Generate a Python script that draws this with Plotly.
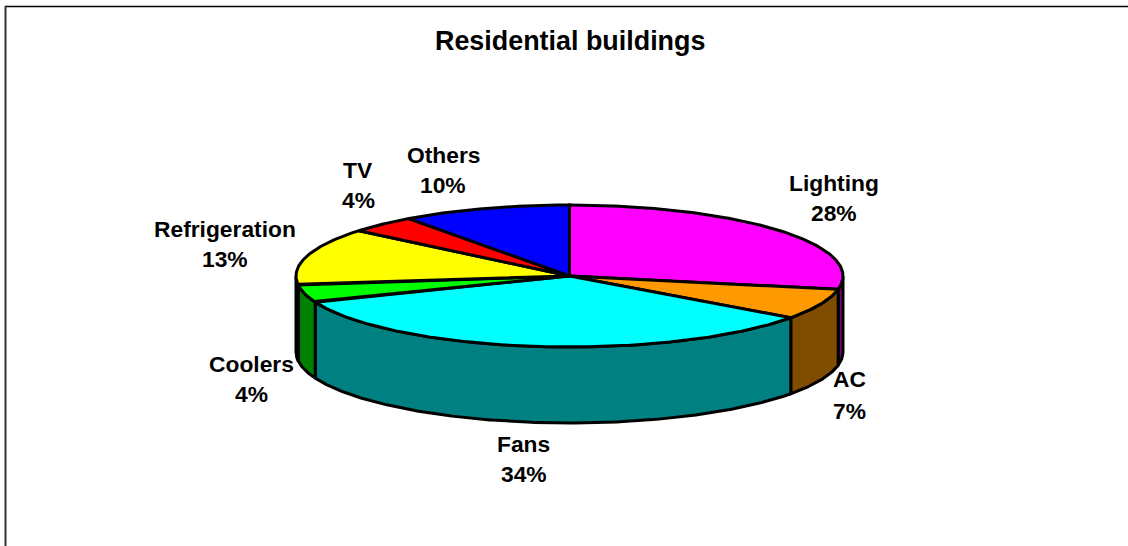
import numpy as np
import plotly.graph_objects as go

# Data
categories = ["Lighting", "AC", "Fans", "Coolers", "Refrigeration", "TV", "Others"]
values = [28, 7, 34, 4, 13, 4, 10]
top_colors = ["#FF00FF", "#FF9900", "#00FFFF", "#00FF00", "#FFFF00", "#FF0000", "#0000FF"]
side_colors = ["#800080", "#7F4C00", "#008080", "#008000", "#808000", "#800000", "#000080"]
title_text = "Residential buildings"

# Label anchor positions in the page frame (centre x, first line y, second line y)
label_x = [833.5, 849, 523.5, 251, 225, 358, 443]
label_y1 = [183, 378.5, 444, 363.5, 228.5, 170, 154.5]
label_y2 = [213, 410.5, 474, 393.5, 258.5, 200, 184.5]

# Tilted-disc projection
CX, CY, RX, RY, DEPTH = 569.5, 276.0, 273.5, 71.0, 76.0
OUTLINE = 3.0


def rim(a0, a1, drop=0.0):
    n = max(2, int(abs(a1 - a0)) * 2 + 2)
    t = np.radians(np.linspace(a0, a1, n))
    return CX + RX * np.sin(t), CY - RY * np.cos(t) + drop


fig = go.Figure()
edges = np.concatenate([[0], np.cumsum(values)]) / sum(values) * 360.0

# Side walls: only the near half of the rim (90..270 degrees clockwise from top)
for i, cat in enumerate(categories):
    a0, a1 = max(edges[i], 90.0), min(edges[i + 1], 270.0)
    if a1 <= a0:
        continue
    xt, yt = rim(a0, a1)
    xb, yb = rim(a1, a0, DEPTH)
    fig.add_trace(go.Scatter(
        x=np.concatenate([xt, xb, xt[:1]]), y=np.concatenate([yt, yb, yt[:1]]),
        mode="lines", fill="toself", fillcolor=side_colors[i],
        line=dict(color="black", width=OUTLINE), name=cat, hoverinfo="skip",
    ))

# Top faces
for i, cat in enumerate(categories):
    xt, yt = rim(edges[i], edges[i + 1])
    fig.add_trace(go.Scatter(
        x=np.concatenate([[CX], xt, [CX]]), y=np.concatenate([[CY], yt, [CY]]),
        mode="lines", fill="toself", fillcolor=top_colors[i],
        line=dict(color="black", width=OUTLINE), name=cat, hoverinfo="text",
        text=f"{cat} {values[i]}%",
    ))

font = dict(family="Liberation Sans, Arial, sans-serif", size=22.8, color="black")
bold = lambda s: f"<b>{s}</b>"
annotations = []
for i, cat in enumerate(categories):
    annotations.append(dict(x=label_x[i], y=label_y1[i], text=bold(cat), showarrow=False, font=font))
    annotations.append(dict(x=label_x[i], y=label_y2[i], text=bold(f"{values[i]}%"), showarrow=False, font=font))
annotations.append(dict(x=570, y=40.5, text=bold(title_text), showarrow=False, font={**font, "size": 26.9}))

fig.update_layout(
    width=1128, height=546, margin=dict(l=0, r=0, t=0, b=0),
    paper_bgcolor="white", plot_bgcolor="white", showlegend=False,
    xaxis=dict(range=[0, 1128], visible=False, fixedrange=True),
    yaxis=dict(range=[546, 0], visible=False, fixedrange=True),
    annotations=annotations,
    shapes=[
        dict(type="line", xref="x", yref="y", x0=5, y0=6.5, x1=1128, y1=6.5, line=dict(color="black", width=1.5)),
        dict(type="line", xref="x", yref="y", x0=5.5, y0=6, x1=5.5, y1=546, line=dict(color="#333333", width=2)),
    ],
)
fig.write_html("out.html", post_script="document.body.style.margin='0';", config={"displayModeBar": False})
